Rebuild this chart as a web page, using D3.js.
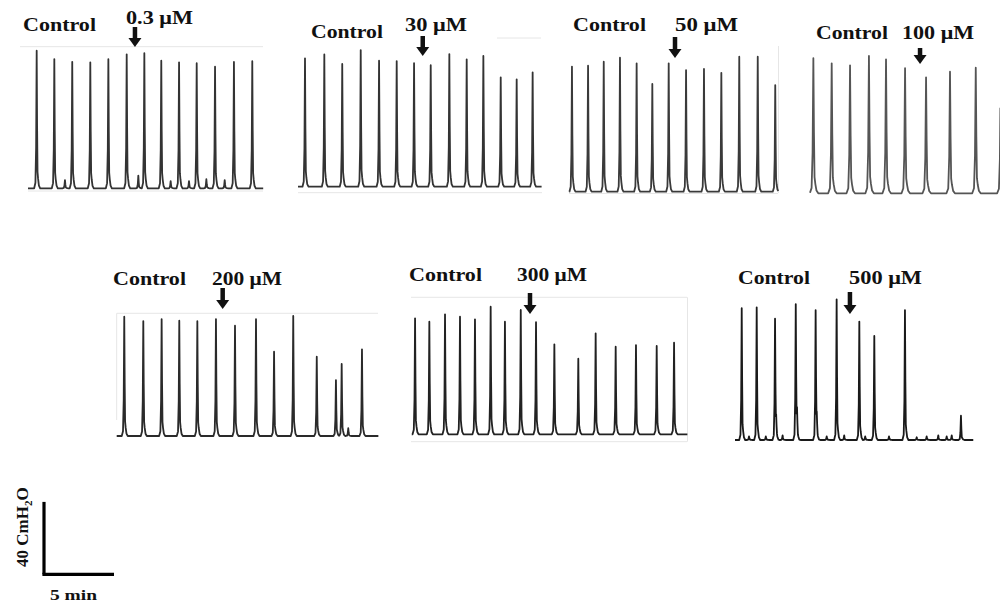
<!DOCTYPE html>
<html>
<head>
<meta charset="utf-8">
<script src="https://cdn.jsdelivr.net/npm/d3@7"></script>
<style>
  body { margin: 0; background: #fff; }
  svg { display: block; }
  text { font-family: "Liberation Serif", "Times New Roman", serif; font-weight: bold; fill: #111; }
</style>
</head>
<body>
<svg id="chart" width="1000" height="603"></svg>
<script>
// doses, one per recording
const doseLabels = ["0.3 μM", "30 μM", "50 μM", "100 μM", "200 μM", "300 μM", "500 μM"];
// length of each recording shown (min)
const durations = [16.8, 17.4, 14.93, 13.6, 18.69, 19.69, 17.02];
// time the drug was added (min from start of each trace)
const doseTimes = [7.64, 8.91, 7.55, 7.86, 7.57, 8.45, 8.21];

// contraction peaks: time (min) and amplitude (cmH2O)
const peakTimes1 = [0.62, 1.88, 3.16, 4.45, 5.74, 7.05, 8.31, 9.52, 10.79, 12.05, 13.36, 14.71, 16.02];
const peakAmps1  = [76.0, 71.4, 69.9, 69.6, 71.3, 74.0, 74.6, 70.5, 69.6, 69.1, 67.2, 69.8, 70.2];
const peakTimes2 = [0.50, 1.88, 3.16, 4.48, 5.79, 7.05, 8.29, 9.48, 10.81, 12.05, 13.24, 14.48, 15.62, 16.76];
const peakAmps2  = [70.9, 73.1, 67.8, 75.5, 69.6, 69.4, 68.2, 67.1, 73.3, 70.4, 72.2, 60.4, 59.3, 63.2];
const peakTimes3 = [0.19, 1.34, 2.46, 3.62, 4.81, 5.93, 7.10, 8.34, 9.62, 10.86, 12.14, 13.46, 14.71];
const peakAmps3  = [69.1, 69.6, 71.8, 74.0, 70.9, 59.5, 70.9, 67.2, 67.8, 65.7, 74.6, 74.6, 58.9];
const peakTimes4 = [0.24, 1.55, 2.86, 4.21, 5.43, 6.79, 8.29, 10.0, 11.84, 13.62];
const peakAmps4  = [74.6, 71.8, 70.7, 75.9, 74.0, 69.1, 64.1, 67.2, 69.4, 63.0];
const peakTimes5 = [0.54, 1.90, 3.21, 4.47, 5.76, 7.09, 8.45, 9.95, 11.24, 12.61, 14.29, 15.66, 16.07, 16.54, 17.52];
const peakAmps5  = [65.9, 63.5, 64.5, 63.7, 63.4, 64.6, 60.9, 64.5, 46.6, 66.3, 43.8, 30.9, 39.8, 4.3, 47.9];
const peakTimes6 = [0.24, 1.26, 2.38, 3.45, 4.52, 5.64, 6.66, 7.79, 8.88, 10.19, 11.90, 13.14, 14.57, 16.02, 17.50, 18.74];
const peakAmps6  = [64.1, 62.2, 66.3, 65.0, 63.5, 70.5, 62.2, 68.7, 61.9, 49.7, 41.8, 55.8, 48.4, 49.3, 48.8, 50.6];
const peakTimes7 = [0.48, 1.55, 2.86, 4.34, 5.76, 7.26, 8.88, 9.95, 12.14, 16.14];
const peakAmps7  = [72.8, 73.3, 66.3, 74.6, 70.9, 77.7, 65.4, 57.5, 71.8, 13.4];

// small secondary waves between contractions
const bumpTimes1 = [2.64, 7.88, 10.19, 11.5, 12.74, 14.05];
const bumpAmps1  = [4.5, 7.0, 4.0, 4.0, 5.0, 4.5];
const bumpTimes7 = [1.0, 2.2, 2.94, 3.4, 4.43, 5.84, 6.55, 7.8, 9.3, 11.0, 12.98, 13.69, 14.52, 15.12, 15.48];
const bumpAmps7  = [2.0, 2.0, 7.9, 2.5, 12.0, 9.0, 2.0, 2.5, 2.0, 2.0, 1.5, 2.0, 2.5, 2.0, 2.5];

// scale bar
const barMinutes = 5;
const barPressure = 40;

const peakTimes = [peakTimes1, peakTimes2, peakTimes3, peakTimes4, peakTimes5, peakTimes6, peakTimes7];
const peakAmps = [peakAmps1, peakAmps2, peakAmps3, peakAmps4, peakAmps5, peakAmps6, peakAmps7];
const bumpTimes = [bumpTimes1, [], [], [], [], [], bumpTimes7];
const bumpAmps = [bumpAmps1, [], [], [], [], [], bumpAmps7];

const pxPerMin = 14;
const pxPerCm = 1.81;

// layout of each panel (pixels)
const panels = [
  { x0: 28,    base: 188.3, ctrl: [23, 31, 73],   dose: [126, 24, 67],  arrow: [27, 47], color: "#333", w: 1,
    lines: [[20, 46.7, 263, 46.7], [28, 191, 263, 191]] },
  { x0: 298,   base: 186.7, ctrl: [311, 38.3, 72], dose: [405, 30.7, 62], arrow: [36, 56], color: "#333", w: 1,
    lines: [[497, 38, 541, 38], [298, 192.7, 542, 192.7]] },
  { x0: 569.3, base: 191.7, ctrl: [573, 30.7, 73], dose: [675, 30.7, 63], arrow: [37, 58], color: "#3a3a3a", w: 1,
    lines: [[778.5, 46, 778.5, 193], [569, 193.5, 778, 193.5]] },
  { x0: 810,   base: 193.3, ctrl: [816, 39.3, 72], dose: [902, 39.3, 72], arrow: [48, 64], color: "#555", w: 1.4,
    lines: [] },
  { x0: 116.7, base: 436,   ctrl: [113, 285, 73],  dose: [212, 285, 70], arrow: [288, 309], color: "#2a2a2a", w: 1,
    lines: [[116.7, 313.3, 378, 313.3], [116.7, 313.3, 116.7, 420]] },
  { x0: 411.7, base: 434.3, ctrl: [409, 280.7, 73], dose: [517, 280.7, 70], arrow: [293, 314], color: "#222", w: 1,
    lines: [[411, 297.3, 687, 297.3], [411, 441.7, 687, 441.7], [687.5, 297.3, 687.5, 441.7]] },
  { x0: 735,   base: 440,   ctrl: [738, 284, 72],  dose: [849, 284, 73], arrow: [292, 314], color: "#1a1a1a", w: 1,
    lines: [] }
];

// shape of a single contraction: offset (min) -> fraction of amplitude
const shapeT = [-0.18, -0.09, -0.04, 0, 0.03, 0.06, 0.10, 0.16, 0.25];
const shapeF = [0, 0.04, 0.3, 1, 0.45, 0.12, 0.07, 0.02, 0];

const svg = d3.select("#chart");

panels.forEach((p, i) => {
  const x = d3.scaleLinear().domain([0, durations[i]]).range([p.x0, p.x0 + durations[i] * pxPerMin]);
  const y = d3.scaleLinear().domain([0, 80]).range([p.base, p.base - 80 * pxPerCm]);

  const g = svg.append("g");

  // faint frame lines left from the scanned panels
  g.selectAll("line.frame").data(p.lines).enter().append("line")
    .attr("x1", d => d[0]).attr("y1", d => d[1]).attr("x2", d => d[2]).attr("y2", d => d[3])
    .attr("stroke", "#e6e6e6").attr("stroke-width", 1);

  const events = peakTimes[i].map((t, k) => ({ t: t, a: peakAmps[i][k] }))
    .concat(bumpTimes[i].map((t, k) => ({ t: t, a: bumpAmps[i][k] })));

  const shape = d3.scaleLinear().domain(shapeT.map(d => d * p.w)).range(shapeF);
  const lo = shapeT[0] * p.w, hi = shapeT[shapeT.length - 1] * p.w;
  const level = t => d3.sum(events, e => {
    const dt = t - e.t;
    return (dt <= lo || dt >= hi) ? 0 : e.a * shape(dt);
  });

  // sample at the knots of every contraction
  let ts = [0, durations[i]];
  events.forEach(e => shapeT.forEach(s => ts.push(e.t + s * p.w)));
  ts = ts.filter(t => t >= 0 && t <= durations[i]).sort((a, b) => a - b);

  const line = d3.line().x(d => x(d)).y(d => y(level(d)));
  g.append("path")
    .attr("d", line(ts))
    .attr("fill", "none")
    .attr("stroke", p.color)
    .attr("stroke-width", 1.8)
    .attr("stroke-linejoin", "round");

  // labels
  g.append("text").attr("x", p.ctrl[0]).attr("y", p.ctrl[1])
    .attr("font-size", 19).attr("textLength", p.ctrl[2]).attr("lengthAdjust", "spacingAndGlyphs")
    .text("Control");
  g.append("text").attr("x", p.dose[0]).attr("y", p.dose[1])
    .attr("font-size", 19).attr("textLength", p.dose[2]).attr("lengthAdjust", "spacingAndGlyphs")
    .text(doseLabels[i]);

  // arrow marking drug addition
  const ax = x(doseTimes[i]), ay0 = p.arrow[0], ay1 = p.arrow[1];
  g.append("line").attr("x1", ax).attr("x2", ax).attr("y1", ay0).attr("y2", ay1 - 7)
    .attr("stroke", "#111").attr("stroke-width", 4.5);
  g.append("path")
    .attr("d", `M${ax - 6.5},${ay1 - 9} L${ax + 6.5},${ay1 - 9} L${ax},${ay1} Z`)
    .attr("fill", "#111");
});

// scale bar
const sx = d3.scaleLinear().domain([0, barMinutes]).range([44, 44 + barMinutes * pxPerMin]);
const sy = d3.scaleLinear().domain([0, barPressure]).range([574.3, 574.3 - barPressure * pxPerCm]);
const bar = svg.append("g");
bar.append("line").attr("x1", sx(0)).attr("x2", sx(0)).attr("y1", sy(0)).attr("y2", sy(barPressure))
  .attr("stroke", "#000").attr("stroke-width", 3.2);
bar.append("line").attr("x1", sx(0) - 1.6).attr("x2", sx(barMinutes)).attr("y1", sy(0)).attr("y2", sy(0))
  .attr("stroke", "#000").attr("stroke-width", 3.2);

bar.append("text").attr("x", 50).attr("y", 600)
  .attr("font-size", 15.5).attr("textLength", 47).attr("lengthAdjust", "spacingAndGlyphs")
  .text(barMinutes + " min");

const vlab = bar.append("text")
  .attr("transform", "translate(27.5,567) rotate(-90)")
  .attr("font-size", 17);
vlab.append("tspan").text(barPressure + " CmH");
vlab.append("tspan").attr("font-size", 11).attr("dy", 4).text("2");
vlab.append("tspan").attr("dy", -4).text("O");
</script>
</body>
</html>
